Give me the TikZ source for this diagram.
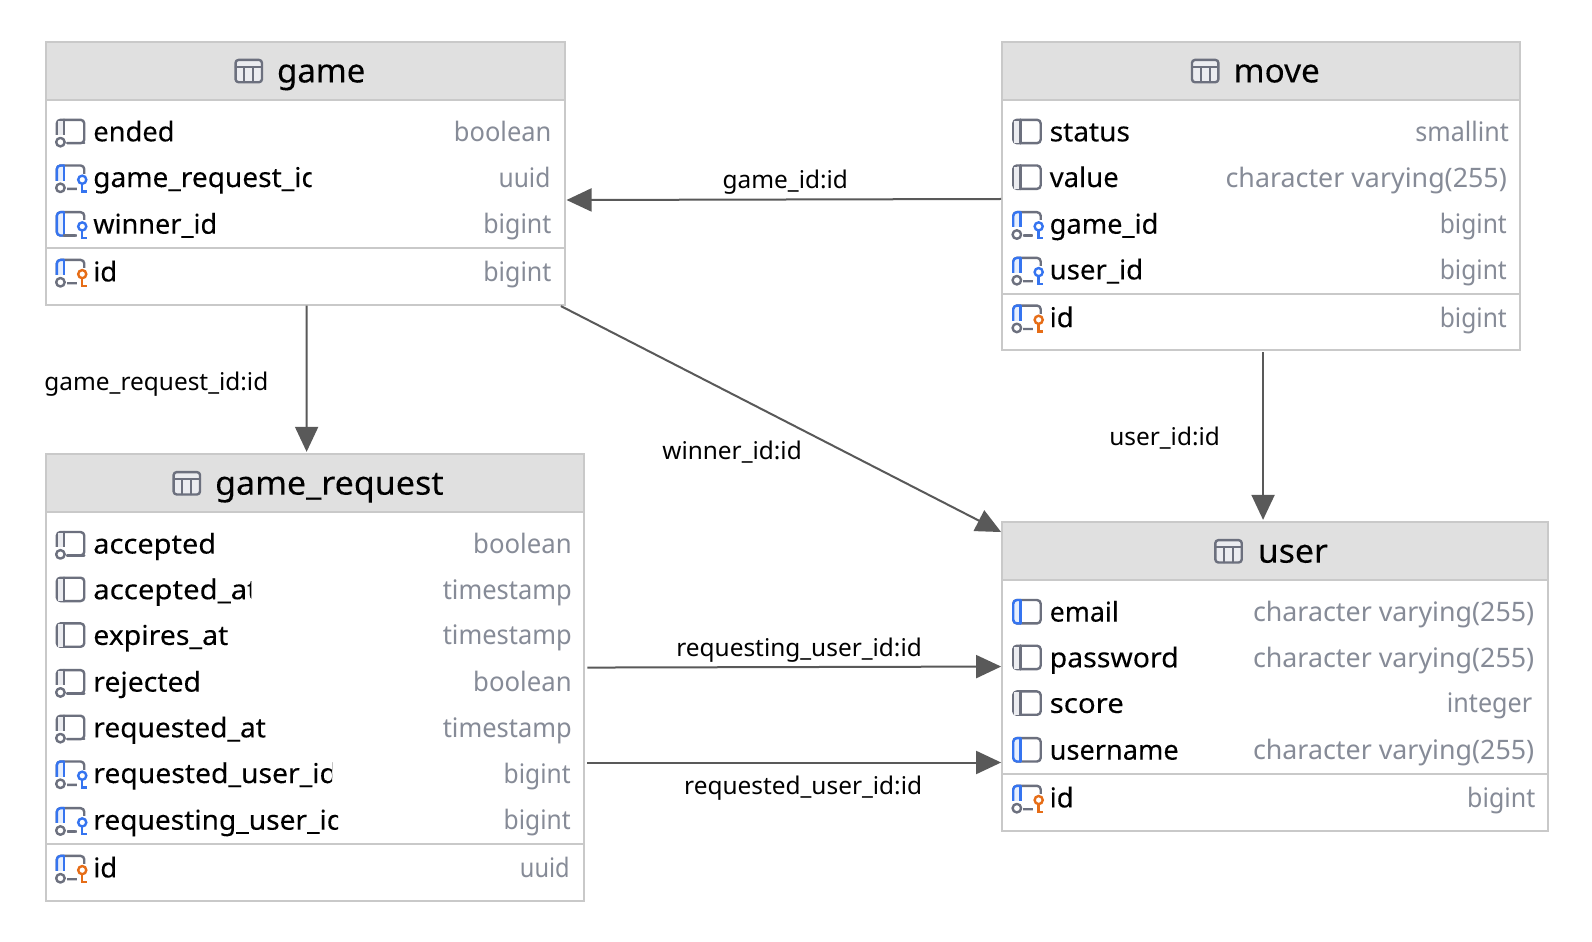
\documentclass[tikz,border=0pt]{standalone}
\usepackage{graphicx}
\usepackage{fontspec}
\setmainfont{Noto Sans}
\newfontfamily\heavyface[FakeBold=0.12]{Noto Sans}
\usetikzlibrary{calc,arrows.meta}
\definecolor{boxline}{HTML}{C9C9C9}
\definecolor{headfill}{HTML}{E0E0E0}
\definecolor{iconline}{HTML}{6C707E}
\definecolor{iconfill}{HTML}{EBECF0}
\definecolor{iconblue}{HTML}{3574F0}
\definecolor{bluefill}{HTML}{E7EFFD}
\definecolor{keyorange}{HTML}{E66D17}
\definecolor{typegray}{HTML}{868B97}
\definecolor{connector}{HTML}{595959}
\newcommand{\rowfont}{\heavyface\fontsize{13.65pt}{16pt}\selectfont}
\newcommand{\typefont}{\fontsize{13.4pt}{16pt}\selectfont}
\newcommand{\titlefont}{\heavyface\fontsize{16.5pt}{20pt}\selectfont}
\newcommand{\labelfont}{\fontsize{12.2pt}{15pt}\selectfont}
\newcommand{\fw}[2]{\pgfmathsetlengthmacro{\fwlen}{#1*0.50765pt}\resizebox{\fwlen}{\height}{#2}}
\tikzset{
  x=0.50765pt,y=-0.50765pt,
  tablebox/.style={draw=boxline,fill=white,line width=1pt,inner sep=0pt,rectangle},
  headrule/.style={draw=boxline,line width=1pt},
  rowtext/.style={font=\rowfont,text=black,inner sep=0pt,anchor=base west},
  typetext/.style={font=\typefont,text=typegray,inner sep=0pt,anchor=base east},
  titletext/.style={font=\titlefont,text=black,inner sep=0pt,anchor=base west},
  edgelabel/.style={font=\labelfont,text=black,inner sep=0pt,anchor=base},
  conn/.style={draw=connector,line width=1pt,-{Triangle[length=12.5pt,width=11.5pt,fill=connector]}},
  icongray/.style={draw=iconline,line width=1.2pt,line cap=round,line join=round},
  iconblue/.style={draw=iconblue,line width=1.2pt,line cap=round,line join=round},
}
% table frame: name, L, R, T, B, header bottom, separator y
\newcommand{\dbtable}[7]{%
  \pgfmathsetmacro{\tw}{(#3-#2)*0.50765}%
  \pgfmathsetmacro{\th}{(#5-#4)*0.50765}%
  \node[tablebox,minimum width=\tw pt,minimum height=\th pt] (#1) at ({(#2+#3)/2},{(#4+#5)/2}) {};
  \fill[headfill] (#2+1,#4+1) rectangle (#3-1,#6);
  \draw[headrule] (#2,#6) -- (#3,#6);
  \draw[headrule] (#2,#7) -- (#3,#7);
}
% title: name, icon centre x, text x, y
\newcommand{\dbtitle}[5]{%
  \begin{scope}[shift={(#2,#4)}]
    \draw[icongray,fill=iconfill,rounded corners=1.5pt] (-13,-11) rectangle (13,11);
    \draw[icongray,line width=1pt] (-13,-4) -- (13,-4) (-4.5,-4) -- (-4.5,11) (4.5,-4) -- (4.5,11);
  \end{scope}
  \node[titletext] (#1-title) at (#3-0.5,#4+11.2) {#5};
}
\newcommand{\iconstrip}[2]{%
  \fill[#2] (1,-11) rectangle (7,11);
  \draw[#1] (7,-12) -- (7,11);
}
\newcommand{\keymark}[1]{%
  \fill[white] (19.5,-4) rectangle (31,16);
  \draw[draw=#1,line width=1.2pt] (25,2) circle (4);
  \draw[draw=#1,line width=1.2pt] (25,6) -- (25,13.5) -- (29.5,13.5);
}
\newcommand{\nullmark}{%
  \fill[white] (-3,3) rectangle (10,17);
  \draw[icongray] (3.5,10) circle (4.2);
}
\newcommand{\plainbody}{%
  \draw[icongray,rounded corners=1.8pt] (0,-12) rectangle (27,11);
}
% icon kinds: p plain, b blue strip, n nullable, f fk null, w fk, k pk
\newcommand{\iconkind}[1]{%
  \if#1p\iconstrip{icongray}{iconfill}\plainbody\iconstrip{icongray}{iconfill}\fi
  \if#1b\plainbody\iconstrip{iconblue}{bluefill}\draw[iconblue,rounded corners=1.8pt] (7,-12) -- (0,-12) -- (0,11) -- (7,11);\fi
  \if#1n\iconstrip{icongray}{iconfill}\plainbody\iconstrip{icongray}{iconfill}\nullmark\draw[icongray] (10,11) -- (27,11);\fi
  \if#1f\plainbody\iconstrip{iconblue}{bluefill}\draw[iconblue,rounded corners=1.8pt] (7,-12) -- (0,-12) -- (0,4);\keymark{iconblue}\nullmark\draw[icongray] (11,11) -- (18,11);\fi
  \if#1w\plainbody\iconstrip{iconblue}{bluefill}\draw[iconblue,rounded corners=1.8pt] (7,-12) -- (0,-12) -- (0,11) -- (7,11);\keymark{iconblue}\draw[icongray] (7,11) -- (18,11);\fi
  \if#1k\plainbody\iconstrip{iconblue}{bluefill}\draw[iconblue,rounded corners=1.8pt] (7,-12) -- (0,-12) -- (0,4);\keymark{keyorange}\nullmark\draw[icongray] (11,11) -- (18,11);\fi
}
% row: node prefix, L, y, name, type, type right x, icon kind, clip right x
\newcommand{\dbrow}[8]{%
  \begin{scope}[shift={(#2+11,#3)}]\iconkind{#7}\end{scope}
  \begin{scope}
    \clip (#2+40,#3-20) rectangle (#8,#3+20);
    \node[rowtext] (#1-name) at (#2+46.5,#3+9.2) {#4};
  \end{scope}
  \node[typetext] (#1-type) at (#6+0.5,#3+9.2) {#5};
}
\begin{document}
\begin{tikzpicture}
\useasboundingbox (0,0) rectangle (1568,927.8);
\fill[white] (0,0) rectangle (1568,927.8);

% game
\dbtable{game}{45}{556}{41}{300}{98.5}{244}
\dbtitle{game}{245}{273}{70}{\fw{87}{game}}
\dbrow{game-ended}{45}{130}{\fw{80}{ended}}{\fw{96}{boolean}}{543}{n}{540}
\dbrow{game-req}{45}{175}{\fw{222}{game\_request\_id}}{\fw{51}{uuid}}{542}{f}{307}
\dbrow{game-win}{45}{221}{\fw{122}{winner\_id}}{\fw{67}{bigint}}{543}{w}{540}
\dbrow{game-id}{45}{268}{id}{\fw{67}{bigint}}{543}{k}{540}

% move
\dbtable{move}{987}{1497}{41}{345}{98.5}{290}
\dbtitle{move}{1187}{1215}{70}{\fw{85}{move}}
\dbrow{move-status}{987}{130}{\fw{79}{status}}{\fw{92}{smallint}}{1486}{p}{1480}
\dbrow{move-value}{987}{175}{\fw{68}{value}}{\fw{277}{character varying(255)}}{1484}{p}{1480}
\dbrow{move-game}{987}{221}{\fw{107}{game\_id}}{\fw{66}{bigint}}{1484}{f}{1480}
\dbrow{move-user}{987}{266}{\fw{92}{user\_id}}{\fw{66}{bigint}}{1484}{f}{1480}
\dbrow{move-id}{987}{313}{id}{\fw{66}{bigint}}{1484}{k}{1480}

% game_request
\dbtable{gamereq}{45}{575}{447}{887}{504.5}{831}
\dbtitle{gamereq}{184}{212}{476}{\fw{225}{game\_request}}
\dbrow{gr-acc}{45}{536}{\fw{121}{accepted}}{\fw{97}{boolean}}{563}{n}{560}
\dbrow{gr-accat}{45}{581}{\fw{162}{accepted\_at}}{\fw{127}{timestamp}}{563}{p}{247.5}
\dbrow{gr-exp}{45}{626}{\fw{133}{expires\_at}}{\fw{127}{timestamp}}{563}{p}{560}
\dbrow{gr-rej}{45}{672}{\fw{106}{rejected}}{\fw{97}{boolean}}{563}{n}{560}
\dbrow{gr-reqat}{45}{717}{\fw{170}{requested\_at}}{\fw{127}{timestamp}}{563}{n}{560}
\dbrow{gr-requ}{45}{762}{\fw{240}{requested\_user\_id}}{\fw{66}{bigint}}{562}{f}{327}
\dbrow{gr-ringu}{45}{808}{\fw{247}{requesting\_user\_id}}{\fw{66}{bigint}}{562}{f}{333}
\dbrow{gr-id}{45}{855}{id}{\fw{49}{uuid}}{561}{k}{560}

% user
\dbtable{user}{987}{1525}{514}{818}{571.5}{762}
\dbtitle{user}{1210}{1239}{543}{\fw{69}{user}}
\dbrow{user-email}{987}{603}{\fw{68}{email}}{\fw{277}{character varying(255)}}{1511}{b}{1500}
\dbrow{user-pass}{987}{648}{\fw{127}{password}}{\fw{277}{character varying(255)}}{1511}{p}{1500}
\dbrow{user-score}{987}{693}{\fw{73}{score}}{\fw{84}{integer}}{1509}{p}{1500}
\dbrow{user-name}{987}{739}{\fw{127}{username}}{\fw{277}{character varying(255)}}{1511}{b}{1500}
\dbrow{user-id}{987}{786}{id}{\fw{67}{bigint}}{1512}{k}{1500}

% connectors
\draw[conn] ($(move.west)+(0,3)$) -- ($(game.east)+(1,26.5)$);
\draw[conn] ($(game.south)+(1.5,0)$) -- ($(gamereq.north)+(-8,-1)$);
\draw[conn] ($(game.south east)+(-4.5,0.5)$) -- ($(user.north west)+(0,11)$);
\draw[conn] ($(move.south)+(2,1)$) -- ($(user.north)+(-12,-1)$);
\draw[conn] ($(gamereq.east)+(2.5,-9.5)$) -- ($(user.west)+(0,-9.5)$);
\draw[conn] ($(gamereq.east)+(2.5,84)$) -- ($(user.west)+(0,85)$);

% connector labels
\node[edgelabel] (l1) at (773.5,186) {game\_id:id};
\node[edgelabel] (l2) at (154,385) {game\_request\_id:id};
\node[edgelabel] (l3) at (721,453) {winner\_id:id};
\node[edgelabel] (l4) at (1147,439) {user\_id:id};
\node[edgelabel] (l5) at (787,647) {requesting\_user\_id:id};
\node[edgelabel] (l6) at (791,783) {requested\_user\_id:id};
\end{tikzpicture}
\end{document}
